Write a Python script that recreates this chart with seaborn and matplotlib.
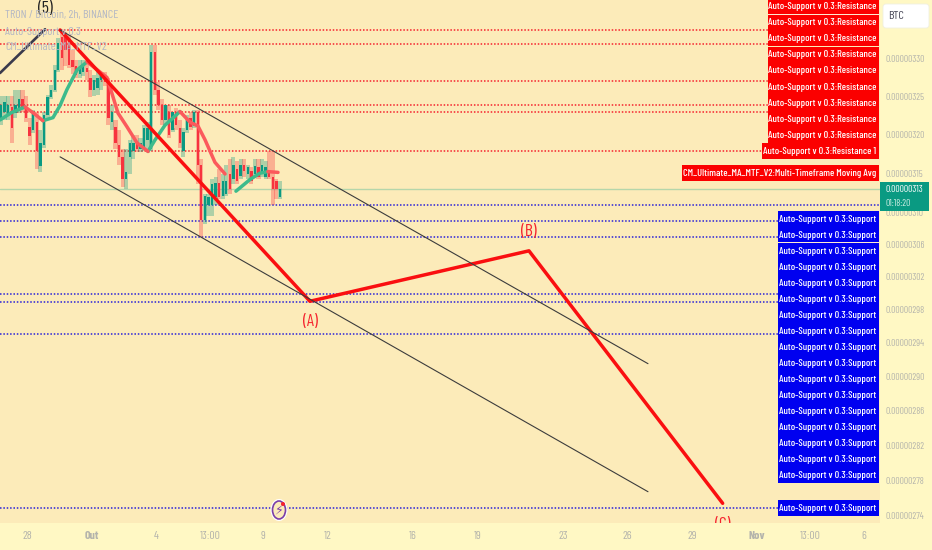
import numpy as np
import pandas as pd
import matplotlib
matplotlib.use("Agg")
import matplotlib.pyplot as plt
import seaborn as sns
import logging
from matplotlib.patches import Rectangle, Ellipse, Circle, FancyBboxPatch
from matplotlib.transforms import Affine2D
from matplotlib.ticker import FixedLocator, FixedFormatter, NullLocator

# prices in satoshi, x axis in days counted from 1 Sep (so Out = 31, Nov = 62)
open_ = [322.2,323.0,322.6,323.6,322.8,323.2,324.6,323.6,321.0,320.6,321.6,315.9,318.6,322.6,324.9,325.9,328.5,
         333.0,333.0,332.5,329.9,329.0,328.0,328.2,328.8,327.5,325.9,326.1,327.2,327.7,326.8,321.6,321.0,318.6,
         317.1,314.2,317.1,317.9,319.0,318.1,318.1,319.3,318.1,330.9,325.9,323.9,321.9,323.0,320.6,323.0,
         320.9,317.8,320.6,322.2,321.1,323.0,316.1,309.0,311.0,311.0,311.9,313.8,312.1,312.3,314.9,314.2,315.5,
         314.6,316.1,314.9,315.3,314.9,315.8,314.9,314.5,315.4,314.5,314.0,311.9]
high = [325.0,325.0,325.0,325.0,325.9,325.9,325.9,325.0,322.2,323.2,323.0,320.6,323.0,325.2,326.5,329.2,332.8,
        333.6,333.6,333.2,331.2,329.9,329.9,329.9,329.9,328.5,327.9,328.2,328.2,328.2,327.5,323.9,321.9,320.6,
        318.1,318.1,319.3,319.9,319.9,319.6,321.2,321.6,331.9,331.9,326.9,324.6,323.9,323.9,320.9,323.5,
        321.9,320.9,322.6,323.0,323.2,323.2,316.8,312.3,312.3,314.2,314.5,315.5,314.9,316.1,316.8,317.1,316.5,
        316.8,316.8,316.1,315.8,316.8,316.8,316.8,316.5,317.9,317.8,314.2,314.0]
low = [321.2,321.9,321.9,318.9,322.2,322.8,323.0,321.6,318.6,320.2,315.5,315.1,318.3,322.2,324.6,325.6,328.2,
       328.5,329.0,328.8,328.0,327.5,327.5,327.7,327.2,324.9,325.1,325.2,325.9,326.4,321.2,320.6,318.1,316.1,
       313.2,313.0,314.9,316.8,317.7,317.7,317.8,318.1,317.8,325.2,323.2,321.2,321.2,319.5,320.3,320.6,
       318.3,317.1,320.2,320.6,320.9,313.6,306.9,308.6,309.6,309.6,311.0,311.7,311.7,312.1,312.3,313.6,313.6,
       314.2,314.5,314.2,313.6,314.5,314.2,314.5,314.2,314.2,311.0,311.7,311.7]
close = [323.9,324.2,323.9,320.9,323.9,324.6,323.5,322.2,319.8,323.0,317.8,318.9,322.6,324.9,325.9,328.5,332.1,
         330.1,331.2,329.2,328.9,327.9,328.8,329.2,328.2,325.9,327.2,327.5,328.0,326.9,322.2,323.0,318.9,317.1,
         314.2,315.1,318.9,318.9,318.1,318.9,320.9,320.9,330.9,325.9,323.9,321.9,323.9,319.9,323.0,321.2,
         318.9,320.3,321.9,321.0,323.0,316.1,309.0,312.1,311.9,313.6,313.8,311.9,314.0,314.0,313.0,316.1,314.0,
         316.1,315.3,315.8,314.0,315.9,314.5,316.1,315.8,314.5,313.0,313.0,313.0]

ma_leg = [0]*3 + [1]*3 + [2]*8 + [3]*7 + [4]*5 + [5]*6 + [6]*5 + [7]*2
ma_trend = ["up"]*3 + ["down"]*3 + ["up"]*8 + ["down"]*7 + ["up"]*5 + ["down"]*6 + ["up"]*5 + ["down"]*2
ma_day = [26.74,27.3,27.91, 27.91,28.3,28.74, 28.74,29.21,29.54,29.86,30.33,30.8,30.8,30.8,
          30.8,31.73,32.24,32.66,33.13,33.64,33.64, 33.64,33.97,34.43,35.13,35.13,
          35.13,35.6,35.97,36.3,36.76,37.23, 37.74,38.4,38.86,39.23,39.23, 39.23,39.7]
ma_price = [321.9,322.9,323.6, 323.6,322.8,321.8, 321.8,322.2,323.8,325.9,328.5,329.6,329.6,329.6,
            329.6,327.5,322.8,321.0,318.9,317.8,317.8, 317.8,319.3,321.2,323.0,323.0,
            323.0,321.6,321.1,319.3,316.4,314.9, 312.7,314.2,315.0,315.2,315.2, 315.2,315.1]

wave_day = [29.54,41.19,51.40,60.43]
wave_price = [333.9,299.0,305.2,275.4]
wave_names = ["(A)","(B)","(C)"]
wave_label_price = [296.5,307.6,273.0]
impulse_day = [26.74,28.84]
impulse_price = [328.1,334.0]
channel_day = [29.54,56.95]
channel_upper = [333.9,291.5]
channel_lower = [317.1,276.7]

resistance = [333.9,332.0,327.0,323.9,323.0,317.8]
support = [308.9,306.9,299.9,298.9,295.0,274.9]
nearest_support = 311.0
last_price = 313.0

price_ticks = [330,325,320,315,310,306,302,298,294,290,286,282,278,274]
date_ticks = [28,31,34,36.54,39,42,46,49,53,56,59,62,64.54,67]
date_labels = ["28","Out","4","13:00","9","12","16","19","23","26","29","Nov","13:00","6"]

CHART_BG = "#fcebb9"
AXIS_BG = "#fff8c4"
UP = "#0a9a82"
DOWN = "#f7333f"

sns.set_theme(style="white")
# the squeezed TradingView labels need a narrow face, falls back if it is missing
plt.rcParams["font.family"] = ["Barlow Condensed", "Archivo Narrow", "Liberation Sans", "DejaVu Sans"]
logging.getLogger("matplotlib.font_manager").setLevel(logging.ERROR)

fig = plt.figure(figsize=(9.32, 5.5), dpi=100, facecolor=AXIS_BG)
ax = fig.add_axes([0, 27/550, 880/932, 523/550], facecolor=CHART_BG)
ax.set_yscale("log")
ax.set_xlim(26.74, 26.74 + 880/21.45)
ax.set_ylim(273.2, 338.0)

# pixel coordinates for the overlay labels, origin top left
px = Affine2D().scale(1, -1).translate(0, 550)


def fit_pt(text, width_px):
    t = fig.text(0, 0, text, fontsize=10)
    w = t.get_window_extent(fig.canvas.get_renderer()).width
    t.remove()
    return 10*width_px/w


TAG_PT = fit_pt("Auto-Support v 0.3:Resistance", 105)
AXIS_PT = fit_pt("0.00000330", 40)
LEGEND_PT = fit_pt("TRON / Bitcoin, 2h, BINANCE", 113)
WAVE_PT = fit_pt("(A)", 15)
DATE_PT = fit_pt("13:00", 21)

ax.hlines(resistance, 26.74, 62.54, color="#f5222d", lw=1.1, ls=(0, (1, 1.2)), zorder=1)
ax.hlines(support, 26.74, 63.0, color="#2a22d8", lw=1.1, ls=(0, (1, 1.2)), zorder=1)
ax.axhline(nearest_support, color="#2a22d8", lw=1.1, ls=(0, (1, 1.2)), zorder=1)
ax.axhline(last_price, color="#b5d6aa", lw=1, zorder=1)

candles = pd.DataFrame({"open": open_, "high": high, "low": low, "close": close})
candles["day"] = 26.79 + candles.index/6
candles["up"] = candles["close"] >= candles["open"]
colors = np.where(candles["up"], UP, DOWN)
ax.bar(candles["day"], candles["high"]-candles["low"], bottom=candles["low"], width=0.19,
       color=colors, alpha=0.32, linewidth=0, zorder=2)
ax.bar(candles["day"], (candles["close"]-candles["open"]).abs(), bottom=candles[["open", "close"]].min(axis=1),
       width=0.11, color=colors, linewidth=0, zorder=3)

ma = pd.DataFrame({"day": ma_day, "price": ma_price, "leg": ma_leg, "trend": ma_trend})
sns.lineplot(data=ma, x="day", y="price", hue="trend", units="leg", estimator=None, sort=False,
             palette={"up": "#3dbb8c", "down": "#fb5a5c"}, lw=2.5, legend=False, ax=ax, zorder=4)

sns.lineplot(x=wave_day, y=wave_price, sort=False, estimator=None, color="#fa0f10", lw=2.5, ax=ax, zorder=5)
sns.lineplot(x=impulse_day, y=impulse_price, sort=False, estimator=None, color="#3a3a4c", lw=1.9, ax=ax, zorder=5)
for prices in (channel_upper, channel_lower):
    sns.lineplot(x=channel_day, y=prices, sort=False, estimator=None, color="#3c3c3c", lw=0.8, ax=ax, zorder=5)

for name, day, price in zip(wave_names, wave_day[1:], wave_label_price):
    ax.text(day, price, name, color="#f5222d", fontsize=WAVE_PT, ha="center", va="center", clip_on=True, zorder=6)
ax.text(28.84, 336.9, "(5)", color="#222222", fontsize=WAVE_PT, ha="center", va="center", clip_on=True, zorder=6)

# axes dressing
ax.set_xlabel("")
ax.set_ylabel("")
for spine in ax.spines.values():
    spine.set_visible(False)
ax.yaxis.tick_right()
ax.yaxis.set_major_locator(FixedLocator(price_ticks))
ax.yaxis.set_major_formatter(FixedFormatter([f"{v/1e8:.8f}" for v in price_ticks]))
ax.yaxis.set_minor_locator(NullLocator())
ax.set_xticks(date_ticks, date_labels)
ax.tick_params(axis="both", length=0, labelcolor="#b4b4ac")
ax.tick_params(axis="y", pad=3.6, labelsize=AXIS_PT)
ax.tick_params(axis="x", pad=6, labelsize=DATE_PT)
for tick in ax.get_xticklabels():
    if tick.get_text() in ("Out", "Nov"):
        tick.set_fontweight("bold")

# top left legend
for y, txt in [(15, "TRON / Bitcoin, 2h, BINANCE"), (32, "Auto-Support v 0.3"), (47, "CM_Ultimate_MA_MTF_V2")]:
    fig.text(5, y, txt, transform=px, color="#b4b8c4", fontsize=LEGEND_PT, va="center", zorder=3)


def tag(x0, yc, text, color):
    fig.add_artist(Rectangle((x0, yc-8), 879-x0, 16, transform=px, color=color, lw=0, zorder=1))
    fig.text(876, yc+0.3, text, transform=px, color="white", fontsize=TAG_PT, fontweight="medium",
             ha="right", va="center", zorder=3)


for y in [6, 22.2, 38.4, 54.6, 70.5, 87, 103, 119, 135]:
    tag(768, y, "Auto-Support v 0.3:Resistance", "#fb0000")
tag(762, 151, "Auto-Support v 0.3:Resistance 1", "#fb0000")
tag(682, 173, "CM_Ultimate_MA_MTF_V2:Multi-Timeframe Moving Avg", "#fb0000")
for i in range(17):
    tag(778, 219 + 16*i, "Auto-Support v 0.3:Support", "#0000f0")
tag(778, 508, "Auto-Support v 0.3:Support", "#0000f0")
for y in (14.5, 79, 242.5, 371, 435):
    x0 = 768 if y < 100 else 778
    fig.add_artist(Rectangle((x0, y-0.4), 879-x0, 0.8, transform=px, color="#ffe9d0", lw=0, zorder=2))

# last price box and BTC chip
fig.add_artist(Rectangle((880, 182), 49, 29, transform=px, color="#0a9a82", lw=0, zorder=1))
fig.text(885, 190, "0.00000313", transform=px, color="white", fontsize=AXIS_PT, va="center", zorder=3)
fig.text(885, 203, "01:18:20", transform=px, color="#cfeee4", fontsize=AXIS_PT, va="center", zorder=3)
fig.add_artist(FancyBboxPatch((885, 6), 42, 20, boxstyle="round,pad=2,rounding_size=3", transform=px,
                              fc="white", ec="#f0efe0", lw=0.6, zorder=1))
fig.text(888, 16, "BTC", transform=px, color="#4a4a5a", fontsize=AXIS_PT*1.25, va="center", zorder=3)

# lightning badge on the time axis
fig.add_artist(Ellipse((279, 510), 17, 22, transform=px, fc="white", ec="none", zorder=1))
fig.add_artist(Ellipse((279, 510), 13, 18, transform=px, fc=CHART_BG, ec="#7b3fa8", lw=1.2, zorder=2))
fig.text(279, 510, "\u26a1", transform=px, color="#7b3fa8", fontsize=9, ha="center", va="center",
         family="DejaVu Sans", zorder=3)
fig.add_artist(Circle((283, 504), 2, transform=px, fc="#f5222d", ec="none", zorder=4))

fig.savefig("out.png", dpi=100, facecolor=AXIS_BG)
